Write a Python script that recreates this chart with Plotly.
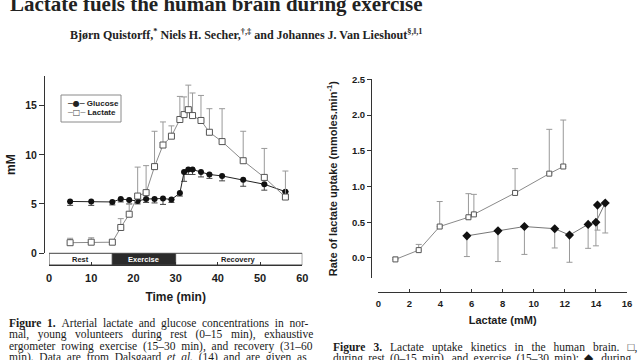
import plotly.graph_objects as go

# ---------------- data: Figure 1 (time course) ----------------
time_min = [5, 10, 15, 17, 19, 21, 23, 25, 27, 29, 31, 32, 33, 34, 36, 38, 41, 46, 51, 56]
lactate_mM = [1.05, 1.1, 1.1, 2.6, 3.95, 5.8, 6.15, 8.8, 11.0, 11.9, 13.6, 14.1, 14.6, 14.0, 13.5, 12.3, 11.35, 9.4, 7.7, 5.7]
lactate_sd_up = [0.45, 0.45, 0.0, 0.9, 1.05, 2.95, 2.75, 3.6, 2.35, 1.05, 2.35, 1.8, 2.5, 2.3, 2.55, 2.4, 3.35, 3.0, 2.95, 2.65]
glucose_mM = [5.25, 5.25, 5.2, 5.5, 5.4, 5.3, 5.5, 5.5, 5.55, 5.45, 6.1, 8.25, 8.5, 8.5, 8.25, 8.0, 7.85, 7.45, 7.0, 6.25]
glucose_sd_down = [0.4, 0.4, 0.3, 0.3, 0.4, 0.3, 0.35, 0.4, 0.6, 0.3, 0.3, 0.95, 0.5, 0.5, 0.5, 0.4, 0.5, 0.65, 0.6, 0.0]
phases = [("Rest", 0, 15), ("Exercise", 15, 30), ("Recovery", 30, 60)]
fig1_xticks = [0, 10, 20, 30, 40, 50, 60]
fig1_yticks = [0, 5, 10, 15]

# ---------------- data: Figure 3 (uptake kinetics) ----------------
restex_lactate = [1.1, 2.6, 3.95, 5.8, 6.15, 8.8, 11.0, 11.9]
restex_rate = [-0.02, 0.11, 0.44, 0.57, 0.61, 0.91, 1.18, 1.28]
restex_sd_up = [0.03, 0.08, 0.35, 0.33, 0.28, 0.34, 0.62, 0.65]
recov_lactate = [5.7, 7.7, 9.4, 11.35, 12.3, 13.5, 14.0, 14.6, 14.1]
recov_rate = [0.31, 0.38, 0.44, 0.41, 0.32, 0.47, 0.50, 0.77, 0.74]
recov_sd_down = [0.29, 0.43, 0.39, 0.27, 0.38, 0.335, 0.33, 0.42, 0.35]
fig3_xticks = [0, 2, 4, 6, 8, 10, 12, 14, 16]
fig3_yticks = [0.0, 0.5, 1.0, 1.5, 2.0, 2.5]

W, H = 640, 360
def fx(p):
    return p / W
def fy(p):
    return 1 - p / H

SANS = "Liberation Sans, Arial, sans-serif"
SERIF = "Liberation Serif, Times New Roman, serif"
INK = "#1c1c1c"

fig = go.Figure()

zeros = [0] * len(time_min)
fig.add_trace(go.Scatter(
    x=time_min, y=glucose_mM, name="Glucose", mode="lines+markers",
    line=dict(color="#222", width=1),
    marker=dict(symbol="circle", size=6, color="#111"),
    error_y=dict(type="data", symmetric=False, array=zeros, arrayminus=glucose_sd_down,
                 color="#444", thickness=1, width=3),
    xaxis="x", yaxis="y"))
fig.add_trace(go.Scatter(
    x=time_min, y=lactate_mM, name="Lactate", mode="lines+markers",
    line=dict(color="#8a8a8a", width=1),
    marker=dict(symbol="square", size=6, color="white", line=dict(color="#555", width=1)),
    error_y=dict(type="data", symmetric=False, array=lactate_sd_up, arrayminus=zeros,
                 color="#999", thickness=1, width=3),
    xaxis="x", yaxis="y"))

fig.add_trace(go.Scatter(
    x=restex_lactate, y=restex_rate, name="Rest and exercise", mode="lines+markers",
    line=dict(color="#8a8a8a", width=1),
    marker=dict(symbol="square", size=5, color="white", line=dict(color="#555", width=1)),
    error_y=dict(type="data", symmetric=False, array=restex_sd_up, arrayminus=[0] * len(restex_rate),
                 color="#999", thickness=1, width=3),
    xaxis="x2", yaxis="y2"))
fig.add_trace(go.Scatter(
    x=recov_lactate, y=recov_rate, name="Recovery", mode="lines+markers",
    line=dict(color="#777", width=1),
    marker=dict(symbol="diamond", size=7, color="#111"),
    error_y=dict(type="data", symmetric=False, array=[0] * len(recov_rate), arrayminus=recov_sd_down,
                 color="#999", thickness=1, width=3),
    xaxis="x2", yaxis="y2"))

tickfont_b = dict(family=SANS, size=11, color=INK, weight="bold")
fig.update_layout(
    width=W, height=H,
    margin=dict(l=0, r=0, t=0, b=0, autoexpand=False),
    paper_bgcolor="white", plot_bgcolor="white",
    font=dict(family=SANS, color=INK),
    showlegend=False,
    xaxis=dict(domain=[fx(49), fx(302.3)], range=[0, 60], anchor="free", position=fy(265),
               automargin=False, ticklabeloverflow="allow", ticklabelstandoff=3,
               showline=True, linecolor="#333", linewidth=1, ticks="inside", ticklen=3,
               tickcolor="#333", tickvals=fig1_xticks, tickfont=tickfont_b,
               showgrid=False, zeroline=False,
               title=dict(text="Time (min)", font=dict(family=SANS, size=12, color=INK, weight="bold"),
                          standoff=9)),
    yaxis=dict(domain=[fy(253), fy(76.3)], range=[0, 18], anchor="free", position=fx(44),
               automargin=False, ticklabeloverflow="allow",
               showline=True, linecolor="#333", linewidth=1, ticks="outside", ticklen=5,
               tickcolor="#333", tickvals=fig1_yticks,
               tickfont=dict(family=SANS, size=10.5, color=INK, weight="bold"),
               showgrid=False, zeroline=False,
               title=dict(text="mM", font=dict(family=SANS, size=12, color=INK, weight="bold"),
                          standoff=6)),
    xaxis2=dict(domain=[fx(378.3), fx(627)], range=[0, 16], anchor="free", position=fy(291.7),
                automargin=False, ticklabeloverflow="allow", ticklabelstandoff=3,
                showline=True, linecolor="#333", linewidth=1, ticks="inside", ticklen=3,
                tickcolor="#333", tickvals=fig3_xticks,
                tickfont=dict(family=SANS, size=9.5, color=INK, weight="bold"),
                showgrid=False, zeroline=False,
                title=dict(text="Lactate (mM)", font=dict(family=SANS, size=11, color=INK, weight="bold"),
                           standoff=8)),
    yaxis2=dict(domain=[fy(278), fy(79.3)], range=[-0.28, 2.5], anchor="free", position=fx(371),
                automargin=False, ticklabeloverflow="allow",
                showline=True, linecolor="#333", linewidth=1, ticks="outside", ticklen=4,
                tickcolor="#333", tickvals=fig3_yticks, tickformat=".1f",
                tickfont=dict(family=SANS, size=9.5, color=INK, weight="bold"),
                showgrid=False, zeroline=False,
                title=dict(text="Rate of lactate uptake (mmoles.min<sup>-1</sup>)",
                           font=dict(family=SANS, size=11, color=INK, weight="bold"), standoff=11)),
)

shapes = []
annotations = []

# phase bar beneath Figure 1
for name, t0, t1 in phases:
    dark = name == "Exercise"
    shapes.append(dict(type="rect", xref="x", yref="paper", x0=t0, x1=t1, y0=fy(265), y1=fy(253.3),
                       fillcolor="#2b2b2b" if dark else "white", line=dict(color="#444", width=1),
                       layer="below"))
    annotations.append(dict(xref="x", yref="paper", x=(t0 + t1) / 2, y=fy(259), text=name,
                            showarrow=False, xanchor="center", yanchor="middle",
                            font=dict(family=SANS, size=7.5, weight="bold",
                                      color="white" if dark else INK)))

# legend box of Figure 1 (symbols as text glyphs)
shapes.append(dict(type="rect", xref="paper", yref="paper", x0=fx(61), x1=fx(121), y0=fy(122), y1=fy(95),
                   fillcolor="white", line=dict(color="#8a8a8a", width=1), layer="above"))
sym = 'font-family:DejaVu Sans;'
legend_rows = [
    ('<span style="%scolor:#222">─●─</span> Glucose' % sym, 103.7),
    ('<span style="%scolor:#888">─</span><span style="%scolor:#444">□</span>'
     '<span style="%scolor:#888">─</span> Lactate' % (sym, sym, sym), 112.7),
]
for txt, ypx in legend_rows:
    annotations.append(dict(xref="paper", yref="paper", x=fx(65), y=fy(ypx), xanchor="left",
                            yanchor="middle", text=txt, showarrow=False,
                            font=dict(family=SANS, size=8, color=INK, weight="bold")))

# page text
annotations.append(dict(xref="paper", yref="paper", x=fx(8), y=fy(4), xanchor="left", yanchor="middle",
                        text="Lactate fuels the human brain during exercise", showarrow=False,
                        font=dict(family=SERIF, size=21, color="#222", weight="bold")))
annotations.append(dict(xref="paper", yref="paper", x=fx(68), y=fy(35), xanchor="left", yanchor="middle",
                        text="Bjørn Quistorff,<sup>*</sup> Niels H. Secher,<sup>†,‡</sup> and Johannes J. Van Lieshout<sup>§,‖,1</sup>",
                        showarrow=False,
                        font=dict(family=SERIF, size=12, color="#222", weight="bold")))

THIN, NBSP = "\u2009", "\u00a0"
cap1 = [
    "<b>Figure 1.</b> Arterial lactate and glucose concentrations in nor-".replace(" ", " " + NBSP),
    "mal, young volunteers during rest (0–15 min), exhaustive".replace(" ", " " + NBSP + NBSP),
    "ergometer rowing exercise (15–30 min), and recovery (31–60".replace(" ", " " + NBSP),
    "min). Data are from Dalsgaard <i>et al.</i> (14) and are given as".replace(" ", " " + NBSP),
]
for i, line in enumerate(cap1):
    annotations.append(dict(xref="paper", yref="paper", x=fx(7), y=fy(323 + 11.6 * i),
                            xanchor="left", yanchor="middle", text=line, showarrow=False,
                            font=dict(family=SERIF, size=11.5, color="#1a1a1a")))
cap3 = [
    "<b>Figure 3.</b> Lactate uptake kinetics in the human brain. □,".replace(" ", " " + NBSP + THIN),
    "during rest (0–15 min), and exercise (15–30 min); ◆, during".replace(" ", " " + THIN),
]
for i, line in enumerate(cap3):
    annotations.append(dict(xref="paper", yref="paper", x=fx(331), y=fy(347 + 11.6 * i),
                            xanchor="left", yanchor="middle", text=line, showarrow=False,
                            font=dict(family=SERIF, size=11.5, color="#1a1a1a")))

fig.update_layout(shapes=shapes, annotations=annotations)
fig.write_html("out.html", config={"displayModeBar": False},
               post_script="document.body.style.margin='0px';")
